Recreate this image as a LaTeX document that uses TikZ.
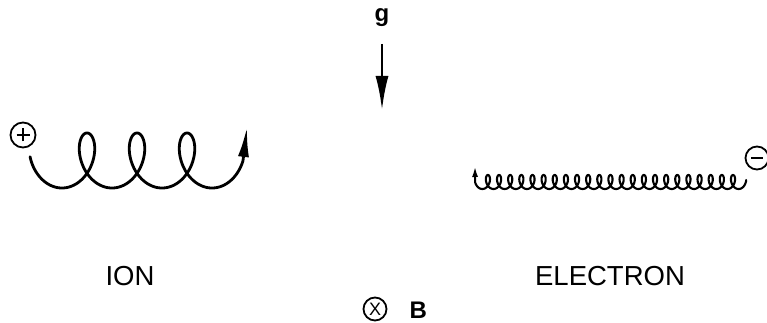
\documentclass[tikz,border=0pt]{standalone}
\usepackage{fontspec}
\setmainfont{Liberation Sans}
\usetikzlibrary{arrows.meta}
\tikzset{
  traj/.style={line width=2.8pt, line cap=round, line join=round},
  etraj/.style={line width=2.1pt, line cap=round, line join=round},
  sym/.style={circle, draw, line width=1.8pt, inner sep=0pt, minimum size=#1},
  label/.style={font=\fontsize{27.5}{30}\selectfont, anchor=base},
  blabel/.style={font=\fontsize{24}{26}\selectfont\bfseries, anchor=base},
}
\begin{document}
\begin{tikzpicture}[x=1pt,y=-1pt]
\useasboundingbox (0,0) rectangle (767,323);
% gravity
\node[blabel] (g) at (382,22) {g};
\coordinate (gs) at (382,44);
\coordinate (gt) at (382,110);
\draw[line width=2.6pt, -{Latex[length=34pt,width=13pt]}] (gs) -- (gt);
% ion
\node[sym=25pt] (plus) at (23,135) {};
\draw[line width=1.8pt] ([xshift=-6.5pt]plus.center) -- ([xshift=6.5pt]plus.center)
  ([yshift=-6.5pt]plus.center) -- ([yshift=6.5pt]plus.center);
\coordinate (iontip) at (247,127);
\draw[traj, -{Latex[length=30pt,width=11pt]}]
  plot[domain=-4.85:17.28, samples=400] ({87+7.96*\x-18.5*sin(\x r)},{160.5-27.5*cos(\x r)}) -- (iontip);
\node[label] (ion) at (130,285) {ION};
% electron
\node[sym=23pt] (minus) at (757,158) {};
\draw[line width=1.8pt] ([xshift=-6pt]minus.center) -- ([xshift=6pt]minus.center);
\coordinate (etip) at (475,166);
\draw[etraj, -{Latex[length=11pt,width=6pt]}]
  plot[domain=-5.0:142.94, samples=1400] ({733-1.773*\x+4.5*sin(\x r)},{182-7*cos(\x r)}) -- (etip);
\node[label] (electron) at (610,285) {ELECTRON};
% magnetic field
\node[sym=23pt, font=\fontsize{18}{20}\selectfont] (bsym) at (375,309) {X};
\node[blabel, anchor=base west] (b) at (406,318) {B};
\end{tikzpicture}
\end{document}
